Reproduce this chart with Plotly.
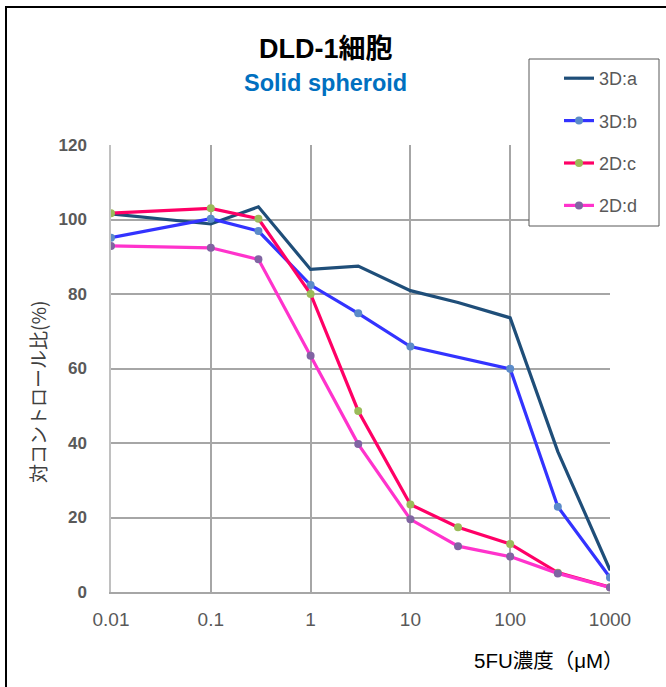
import plotly.graph_objects as go

conc = [0.01, 0.1, 0.3, 1, 3, 10, 30, 100, 300, 1000]
a_vals = [101.5, 98.8, 103.4, 86.6, 87.5, 80.9, 77.7, 73.6, 37.7, 5.9]
b_conc = [0.01, 0.1, 0.3, 1, 3, 10, 100, 300, 1000]
b_vals = [95.1, 100.2, 96.9, 82.4, 74.8, 65.9, 59.9, 22.9, 3.9]
c_vals = [101.7, 103.0, 100.2, 80.0, 48.6, 23.5, 17.4, 12.9, 5.2, 1.3]
d_vals = [92.9, 92.4, 89.3, 63.4, 39.7, 19.5, 12.3, 9.5, 5.0, 1.2]

x_ticks = [0.01, 0.1, 1, 10, 100, 1000]
x_tick_text = ["0.01", "0.1", "1", "10", "100", "1000"]
y_ticks = [0, 20, 40, 60, 80, 100, 120]

series = [
    ("3D:a", conc, a_vals, "#1F4E79", "#1F4E79", 2),
    ("3D:b", b_conc, b_vals, "#3333FF", "#5B8BC9", 8),
    ("2D:c", conc, c_vals, "#FF0066", "#9BBB59", 8),
    ("2D:d", conc, d_vals, "#FF33CC", "#8064A2", 8),
]

W, H = 666, 687
L, R, T, B = 111, 56, 145, 95
PW, PH = W - L - R, H - T - B


def px(x):
    return (x - L) / PW


def py(y):
    return (H - B - y) / PH


fig = go.Figure()
for name, xs, ys, lc, mc, ms in series:
    fig.add_trace(go.Scatter(
        x=xs, y=ys, name=name, mode="lines+markers", legendgroup=name,
        line=dict(color=lc, width=3.2),
        marker=dict(color=mc, size=ms),
    ))

cjk = "Noto Sans CJK JP"
latin = "Liberation Sans, " + cjk

fig.update_layout(
    width=W, height=H,
    margin=dict(l=L, r=R, t=T, b=B),
    paper_bgcolor="white", plot_bgcolor="white",
    font=dict(family=latin, color="#595959", size=14),
    showlegend=True,
    legend=dict(
        x=px(559), y=py(60), xanchor="left", yanchor="top",
        bgcolor="rgba(0,0,0,0)", borderwidth=0,
        font=dict(size=18, color="#595959", family=latin), tracegroupgap=16,
        itemwidth=30,
    ),
    xaxis=dict(
        type="log", range=[-2, 3], tickvals=x_ticks, ticktext=x_tick_text,
        showgrid=True, gridcolor="#A6A6A6", gridwidth=1.5,
        showline=True, linecolor="#A6A6A6", linewidth=1.5,
        ticks="", ticklabelstandoff=9,
        tickfont=dict(size=19, color="#595959",
                      family="Liberation Sans Narrow, Liberation Sans"),
        zeroline=False,
    ),
    yaxis=dict(
        range=[0, 120], tickvals=y_ticks,
        showgrid=True, gridcolor="#A6A6A6", gridwidth=1.5,
        showline=True, linecolor="#C0C0C0", linewidth=1.5,
        ticks="", tickfont=dict(size=17, color="#595959", weight="bold",
                                family=latin),
        ticklabelstandoff=19,
        zeroline=False,
    ),
    annotations=[
        dict(text="<b>DLD-1細胞</b>", xref="paper", yref="paper",
             x=px(326), y=py(49), xanchor="center", yanchor="middle",
             showarrow=False, font=dict(size=27, color="black", family=latin)),
        dict(text="<b>Solid spheroid</b>", xref="paper", yref="paper",
             x=px(325), y=py(83), xanchor="center", yanchor="middle",
             showarrow=False, font=dict(size=23.5, color="#0070C0", family=latin)),
        dict(text="5FU濃度（μM）", xref="paper", yref="paper",
             x=px(549), y=py(660), xanchor="center", yanchor="middle",
             showarrow=False, font=dict(size=20.5, color="black", family=latin)),
        dict(text="対コントロール比(%)", xref="paper", yref="paper",
             x=px(37), y=py(392), xanchor="center", yanchor="middle", textangle=-90,
             showarrow=False, font=dict(size=19, color="#404040", family=cjk)),
    ],
    shapes=[
        dict(type="rect", xref="paper", yref="paper",
             x0=px(6), x1=px(690), y0=py(710), y1=py(7),
             line=dict(color="black", width=2), layer="below"),
        dict(type="rect", xref="paper", yref="paper",
             x0=px(529), x1=px(659), y0=py(226), y1=py(59),
             line=dict(color="#595959", width=1), fillcolor="white", layer="above"),
    ],
)

fig.write_html("out.html", config={"displayModeBar": False},
               post_script="document.body.style.margin='0px';")
